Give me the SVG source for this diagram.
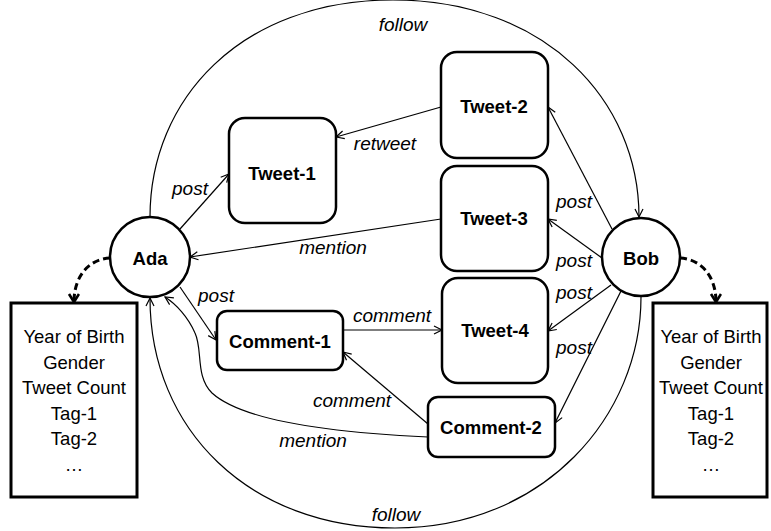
<svg xmlns="http://www.w3.org/2000/svg" width="771" height="531" viewBox="0 0 771 531">
<style>
.node{fill:#fff;stroke:#000;stroke-width:2.5}
.box{fill:#fff;stroke:#000;stroke-width:3}
.edge{fill:none;stroke:#000;stroke-width:1.2;marker-end:url(#arr)}
.dash{fill:none;stroke:#000;stroke-width:3;stroke-dasharray:7 4;marker-end:url(#arrB)}
.nt{font-family:"Liberation Sans",Arial,sans-serif;font-weight:bold;font-size:18.5px;text-anchor:middle;fill:#000}
.lb{font-family:"Liberation Sans",Arial,sans-serif;font-style:italic;font-size:19px;text-anchor:middle;fill:#000}
.at{font-family:"Liberation Sans",Arial,sans-serif;font-size:18.5px;text-anchor:middle;fill:#000}
</style>
<defs>
<marker id="arr" markerUnits="userSpaceOnUse" markerWidth="12" markerHeight="12" refX="9" refY="5" orient="auto">
<path d="M1,1 L9,5 L1,9" fill="none" stroke="#000" stroke-width="1.2"/>
</marker>
<marker id="arrB" markerUnits="userSpaceOnUse" markerWidth="14" markerHeight="14" refX="10" refY="6" orient="auto">
<path d="M2,1 L10,6 L2,11" fill="none" stroke="#000" stroke-width="2.6"/>
</marker>
</defs>
<rect width="771" height="531" fill="#fff"/>
<g id="connectors">
<path class="edge" d="M150,217 C150,100 240,0 393,0 C545,0 639,100 639,217"/>
<path class="edge" d="M641,297 C641,415 545,528 395,528 C250,528 150,430 150,298"/>
<path class="edge" d="M180,229 L229,174"/>
<path class="edge" d="M441,107 L336,137"/>
<path class="edge" d="M441,219 L190,257"/>
<path class="edge" d="M612,229 L548,107"/>
<path class="edge" d="M602,258 L548,219"/>
<path class="edge" d="M611,285 L548,331"/>
<path class="edge" d="M621,291 L555,423"/>
<path class="edge" d="M180,287 L216,340"/>
<path class="edge" d="M343,330 L442,330"/>
<path class="edge" d="M428,424 L343,352"/>
<path class="edge" d="M428,437 C340,433 245,423 212,393 C195,376 203,350 195,333 C188,317 176,304 165,297"/>
<path class="dash" d="M110,258 C90,259 74,275 74,302"/>
<path class="dash" d="M680,258 C700,259 716,275 716,302"/>
<text class="lb" x="403" y="31">follow</text>
<text class="lb" x="396" y="521">follow</text>
<text class="lb" x="385" y="150">retweet</text>
<text class="lb" x="333" y="254">mention</text>
<text class="lb" x="190" y="195">post</text>
<text class="lb" x="574" y="208">post</text>
<text class="lb" x="574" y="267">post</text>
<text class="lb" x="574" y="299">post</text>
<text class="lb" x="574" y="354">post</text>
<text class="lb" x="216" y="302">post</text>
<text class="lb" x="392" y="322">comment</text>
<text class="lb" x="352" y="407">comment</text>
<text class="lb" x="313" y="447">mention</text>
</g>
<g id="ada"><circle class="node" cx="150" cy="257" r="40"/><text class="nt" x="150" y="265">Ada</text></g>
<g id="bob"><circle class="node" cx="641" cy="257" r="39"/><text class="nt" x="641" y="265">Bob</text></g>
<g id="tweet1"><rect class="node" x="229" y="118" width="107" height="105" rx="16"/><text class="nt" x="282" y="180">Tweet-1</text></g>
<g id="tweet2"><rect class="node" x="441" y="52" width="107" height="106" rx="16"/><text class="nt" x="494" y="113">Tweet-2</text></g>
<g id="tweet3"><rect class="node" x="441" y="166" width="107" height="105" rx="16"/><text class="nt" x="494" y="225">Tweet-3</text></g>
<g id="tweet4"><rect class="node" x="442" y="278" width="106" height="105" rx="16"/><text class="nt" x="495" y="337">Tweet-4</text></g>
<g id="comment1"><rect class="node" x="217" y="311" width="126" height="59" rx="10"/><text class="nt" x="280" y="348">Comment-1</text></g>
<g id="comment2"><rect class="node" x="428" y="397" width="127" height="60" rx="10"/><text class="nt" x="491" y="434">Comment-2</text></g>
<g id="ada-attrs"><rect class="box" x="11" y="303" width="126" height="194"/>
<text class="at" x="74" y="343">Year of Birth</text><text class="at" x="74" y="369">Gender</text><text class="at" x="74" y="394">Tweet Count</text><text class="at" x="74" y="420">Tag-1</text><text class="at" x="74" y="445">Tag-2</text><text class="at" x="74" y="471">…</text></g>
<g id="bob-attrs"><rect class="box" x="653" y="303" width="114" height="194"/>
<text class="at" x="711" y="343">Year of Birth</text><text class="at" x="711" y="369">Gender</text><text class="at" x="711" y="394">Tweet Count</text><text class="at" x="711" y="420">Tag-1</text><text class="at" x="711" y="445">Tag-2</text><text class="at" x="711" y="471">…</text></g>
</svg>
